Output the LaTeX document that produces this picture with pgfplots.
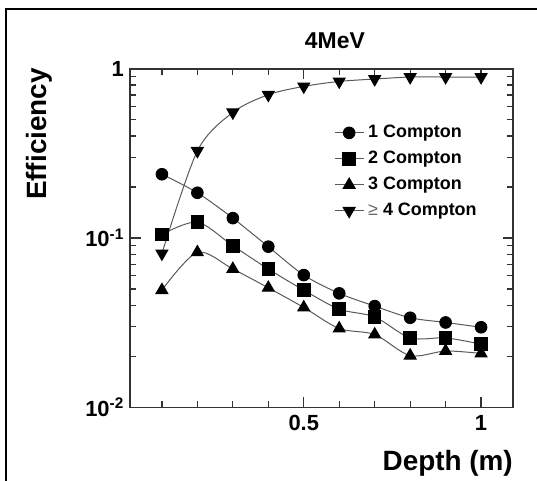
\documentclass[border=0pt]{standalone}
\usepackage{pgfplots}
\pgfplotsset{compat=1.18}
\usepackage{fontspec}
\setmainfont{Liberation Sans}

\pgfplotstableread{
x     c1      c2      c3      c4
0.1   0.238   0.105   0.0492  0.081
0.2   0.185   0.124   0.0823  0.327
0.3   0.131   0.090   0.0656  0.552
0.4   0.0889  0.0656  0.0508  0.702
0.5   0.0604  0.0492  0.0389  0.786
0.6   0.0471  0.0380  0.0292  0.841
0.7   0.0396  0.0342  0.0269  0.869
0.8   0.0338  0.0257  0.0202  0.893
0.9   0.0317  0.0257  0.0215  0.893
1.0   0.0297  0.0236  0.0208  0.893
}\effdata

\begin{document}
\begin{tikzpicture}
\useasboundingbox (0bp,0bp) rectangle (537bp,481bp);
% outer frame (only left and top edges are in view)
\draw[line width=1.4bp] (6bp,-5bp) -- (6bp,472bp) -- (545bp,472bp);
\begin{axis}[
    at={(130bp,73.7bp)}, anchor=south west,
    scale only axis, width=383bp, height=338.6bp,
    ymode=log,
    xmin=0.01, xmax=1.09, ymin=0.01, ymax=1,
    xtick={0.5,1}, xticklabels={0.5,1},
    minor xtick={0.1,0.2,0.3,0.4,0.6,0.7,0.8,0.9},
    ytick={0.01,0.1,1},
    yticklabels={10\textsuperscript{-2},10\textsuperscript{-1},1},
    minor ytick={0.02,0.03,0.04,0.05,0.06,0.07,0.08,0.09,0.2,0.3,0.4,0.5,0.6,0.7,0.8,0.9},
    tick align=inside, tick pos=both,
    major tick length=10.5bp, minor tick length=6bp,
    axis line style={line width=1.6bp, draw=black!80},
    tick style={line width=1.3bp, draw=black!80},
    tick label style={font=\fontsize{22}{26}\selectfont\bfseries, inner sep=0pt},
    xticklabel style={anchor=north, yshift=-7.7bp},
    yticklabel style={anchor=east, xshift=-6bp},
    title={4MeV},
    title style={font=\fontsize{23}{27}\selectfont\bfseries, at={(0.535,1)}, anchor=center, yshift=21.7bp, inner sep=0pt},
    xlabel={Depth (m)},
    xlabel style={font=\fontsize{28}{32}\selectfont\bfseries, at={(1,0)}, anchor=base east, yshift=-62.7bp, inner sep=0pt},
    ylabel={Efficiency},
    ylabel style={font=\fontsize{28}{32}\selectfont\bfseries, at={(-0.2376,0.807)}, anchor=center, inner sep=0pt},
    legend style={at={(0.5326,0.6953)}, anchor=west, draw=none, fill=none,
        font=\fontsize{18}{22}\selectfont\bfseries, inner sep=0pt,
        row sep=9bp, column sep=4bp,
        nodes={inner sep=0pt, text height=13bp, text depth=4bp}},
    legend cell align=left,
    legend image code/.code={\draw[mark repeat=2,mark phase=2,#1] plot coordinates {(0bp,0bp) (14.5bp,0bp) (29bp,0bp)};},
    every axis plot/.append style={smooth, draw=black!65, line width=1bp},
]
\addplot[mark=*, mark size=5.8bp, mark options={draw=black, fill=black}] table[x=x,y=c1] {\effdata};
\addlegendentry{1 Compton}
\addplot[mark=square*, mark size=6.3bp, mark options={draw=black, fill=black}] table[x=x,y=c2] {\effdata};
\addlegendentry{2 Compton}
\addplot[mark=triangle*, mark size=6.8bp, mark options={draw=black, fill=black}] table[x=x,y=c3] {\effdata};
\addlegendentry{3 Compton}
\addplot[mark=triangle*, mark size=6.8bp, mark options={draw=black, fill=black, rotate=180}] table[x=x,y=c4] {\effdata};
\addlegendentry{{\mdseries\color{black!60}≥} 4 Compton}
\end{axis}
\end{tikzpicture}
\end{document}
